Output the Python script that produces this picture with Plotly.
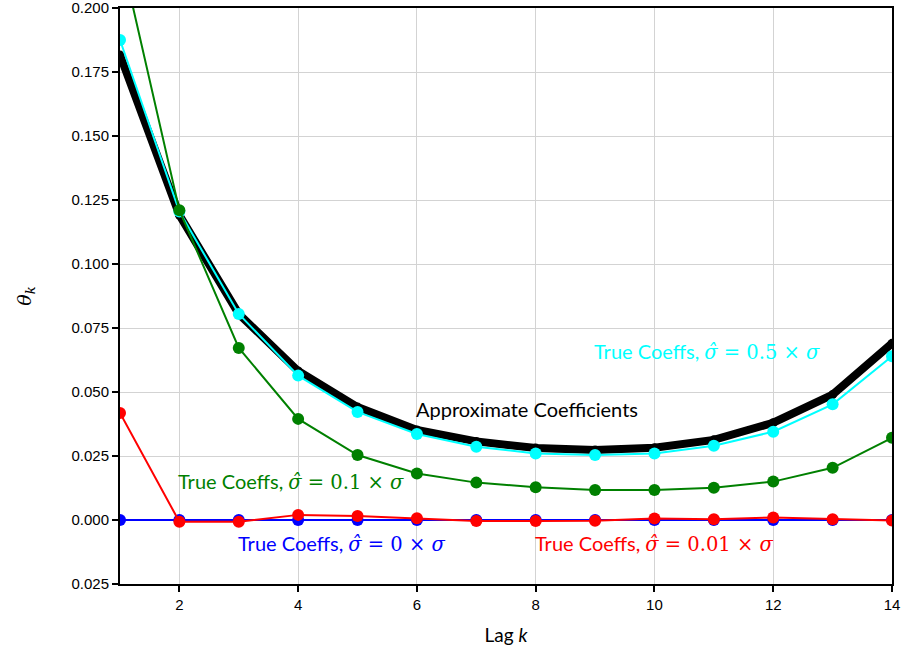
import plotly.graph_objects as go

lags = list(range(1, 15))
approx = [0.1816, 0.1191, 0.0805, 0.0582, 0.0441, 0.0352, 0.0307, 0.0281, 0.0273, 0.0282, 0.0313, 0.0380, 0.0490, 0.0690]
true_05 = [0.1875, 0.1205, 0.0805, 0.0564, 0.0422, 0.0336, 0.0286, 0.0260, 0.0254, 0.0260, 0.0290, 0.0345, 0.0452, 0.0640]
true_01 = [0.2225, 0.1210, 0.0672, 0.0395, 0.0254, 0.0182, 0.0146, 0.0128, 0.0117, 0.0117, 0.0126, 0.0150, 0.0204, 0.0321]
true_0 = [0.0] * 14
true_001 = [0.0418, -0.0007, -0.0007, 0.0020, 0.0016, 0.0007, -0.0004, -0.0004, -0.0003, 0.0006, 0.0003, 0.0010, 0.0003, -0.0002]

y_tickvals = [-0.025, 0.0, 0.025, 0.05, 0.075, 0.1, 0.125, 0.15, 0.175, 0.2]
y_ticktext = ["0.025", "0.000", "0.025", "0.050", "0.075", "0.100", "0.125", "0.150", "0.175", "0.200"]
x_tickvals = [2, 4, 6, 8, 10, 12, 14]

M = "<span style='font-family:DejaVu Serif;font-size:19.5px'>"
labels = {
    "approx": "Approximate Coefficients",
    "t05": "True Coeffs, " + M + "<i>σ̂</i> = 0.5 × <i>σ</i></span>",
    "t01": "True Coeffs, " + M + "<i>σ̂</i> = 0.1 × <i>σ</i></span>",
    "t0": "True Coeffs, " + M + "<i>σ̂</i> = 0 × <i>σ</i></span>",
    "t001": "True Coeffs, " + M + "<i>σ̂</i> = 0.01 × <i>σ</i></span>",
}
label_pos = {
    "approx": (6.0, 0.0434, "black"),
    "t05": (9.0, 0.066, "cyan"),
    "t01": (2.0, 0.0152, "green"),
    "t0": (3.0, -0.009, "blue"),
    "t001": (8.0, -0.009, "red"),
}

fig = go.Figure()
fig.add_trace(go.Scatter(x=lags, y=approx, mode="lines+markers",
                         line=dict(color="black", width=8), marker=dict(color="black", size=9)))
fig.add_trace(go.Scatter(x=lags, y=true_05, mode="lines+markers",
                         line=dict(color="cyan", width=2), marker=dict(color="cyan", size=12)))
fig.add_trace(go.Scatter(x=lags, y=true_01, mode="lines+markers",
                         line=dict(color="green", width=2), marker=dict(color="green", size=12)))
fig.add_trace(go.Scatter(x=lags, y=true_0, mode="lines+markers",
                         line=dict(color="blue", width=2), marker=dict(color="blue", size=12)))
fig.add_trace(go.Scatter(x=lags, y=true_001, mode="lines+markers",
                         line=dict(color="red", width=2), marker=dict(color="red", size=12)))

for key, (x, y, c) in label_pos.items():
    fig.add_annotation(x=x, y=y, text=labels[key], showarrow=False, xanchor="left", yanchor="middle",
                       xshift=-3, font=dict(color=c, size=20, family="Lato"))

axis_common = dict(showline=True, linecolor="black", linewidth=2, mirror=True, automargin=False,
                   showgrid=True, gridcolor="#d3d3d3", gridwidth=1, zeroline=False,
                   ticks="outside", ticklen=6, tickcolor="black", tickwidth=1.5,
                   ticklabeloverflow="allow",
                   tickfont=dict(family="Liberation Sans", size=15, color="black"))

fig.update_layout(
    width=902, height=650, showlegend=False,
    paper_bgcolor="white", plot_bgcolor="white",
    margin=dict(l=120, r=10, t=8, b=66, autoexpand=False),
    xaxis=dict(range=[1, 14], tickvals=x_tickvals,
               title=dict(text="Lag <i>k</i>", font=dict(family="Lato", size=19, color="black"), standoff=17),
               **axis_common),
    yaxis=dict(range=[-0.025, 0.2], tickvals=y_tickvals, ticktext=y_ticktext,
               title=dict(text="<i>θ</i><sub><i>k</i></sub>", font=dict(family="DejaVu Serif", size=19, color="black"), standoff=35),
               **axis_common),
)

fig.write_html("out.html", config={"displayModeBar": False},
               post_script="document.body.style.margin='0';document.body.style.padding='0';")
